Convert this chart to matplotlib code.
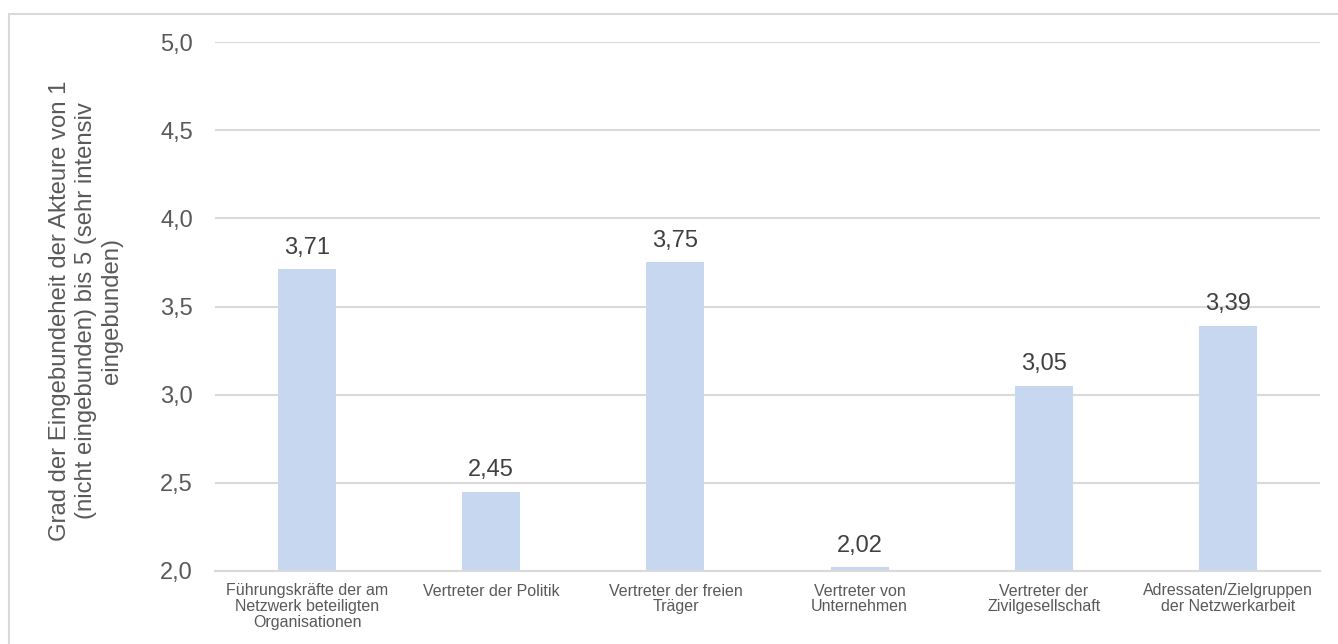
import matplotlib.pyplot as plt
from matplotlib.patches import Rectangle

categories = [
    "Führungskräfte der am\nNetzwerk beteiligten\nOrganisationen",
    "Vertreter der Politik",
    "Vertreter der freien\nTräger",
    "Vertreter von\nUnternehmen",
    "Vertreter der\nZivilgesellschaft",
    "Adressaten/Zielgruppen\nder Netzwerkarbeit",
]
values = [3.71, 2.45, 3.75, 2.02, 3.05, 3.39]
yticks = [2.0, 2.5, 3.0, 3.5, 4.0, 4.5, 5.0]

plt.rcParams['font.family'] = ['Liberation Sans', 'DejaVu Sans']
text_color = '#595959'
grid_color = '#D9D9D9'
bar_color = '#C6D7EF'

fig = plt.figure(figsize=(13.38, 6.44), dpi=100)
ax = fig.add_axes([215 / 1338, 1 - 571 / 644, 1105 / 1338, 529 / 644])

# outer chart border
fig.patches.append(Rectangle((8.5 / 1338, -0.01), 1.02, 1 - 13.5 / 644 + 0.01,
                             transform=fig.transFigure, fill=False,
                             edgecolor=grid_color, linewidth=1.5))

x = list(range(len(categories)))
ax.bar(x, values, width=0.315, color=bar_color, zorder=2)

for xi, v in zip(x, values):
    ax.text(xi, v + 0.06, f"{v:.2f}".replace('.', ','), ha='center', va='bottom',
            fontsize=17, color='#404040')

ax.set_ylim(2.0, 5.0)
ax.set_xlim(-0.5, len(categories) - 0.5)
ax.set_yticks(yticks)
ax.set_yticklabels([f"{t:.1f}".replace('.', ',') for t in yticks], fontsize=17, color=text_color)
ax.set_xticks(x)
ax.set_xticklabels(categories, fontsize=11.5, color=text_color, linespacing=1.05)
ax.tick_params(axis='both', length=0)
ax.tick_params(axis='y', pad=16)
ax.tick_params(axis='x', pad=9)

ax.grid(axis='y', color=grid_color, linewidth=1.5, zorder=0)
ax.set_axisbelow(True)
for s in ['top', 'right', 'left']:
    ax.spines[s].set_visible(False)
ax.spines['bottom'].set_color(grid_color)
ax.spines['bottom'].set_linewidth(1.5)

fig.text(86 / 1338, 1 - 311 / 644,
         "Grad der Eingebundeheit der Akteure von 1\n(nicht eingebunden) bis 5 (sehr intensiv\neingebunden)",
         rotation=90, ha='center', va='center', fontsize=17.2, color=text_color,
         linespacing=1.25)

fig.savefig('out.png', dpi=100)
